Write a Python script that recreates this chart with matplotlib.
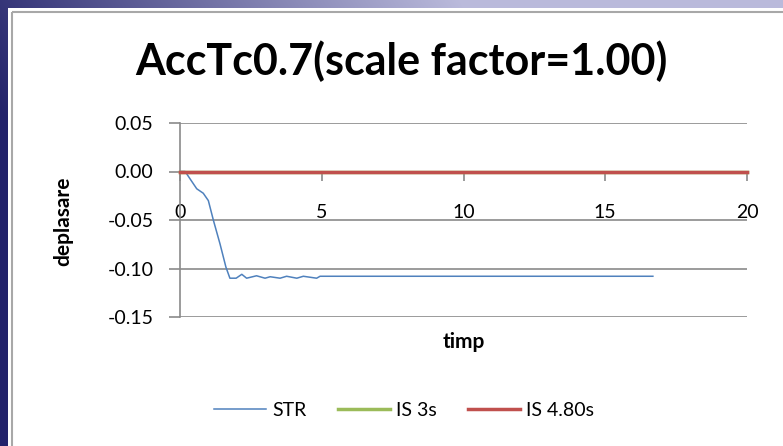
import numpy as np
import matplotlib.pyplot as plt
from matplotlib.patches import Rectangle

# data
t_str = [0, 0.18, 0.59, 0.82, 1.0, 1.18, 1.41, 1.62, 1.76, 1.98, 2.18, 2.35, 2.7, 3.0,
         3.18, 3.53, 3.76, 4.12, 4.35, 4.82, 4.94, 16.68]
d_str = [0, 0, -0.0178, -0.0224, -0.030, -0.0505, -0.0745, -0.0986, -0.110, -0.110,
         -0.106, -0.110, -0.1075, -0.110, -0.1085, -0.110, -0.108, -0.110, -0.108,
         -0.110, -0.108, -0.108]
t_is = [0, 5, 10, 15, 20]
d_is3 = [0, 0, 0, 0, 0]
d_is48 = [0, 0, 0, 0, 0]

series_labels = ['STR', 'IS 3s', 'IS 4.80s']
title = 'AccTc0.7(scale factor=1.00)'

W, H = 783, 446
plt.rcParams['font.family'] = ['Lato', 'DejaVu Sans']
plt.rcParams['axes.unicode_minus'] = False

fig = plt.figure(figsize=(W / 100, H / 100), dpi=100)

# slide background (purple gradient) + white chart area
bg = fig.add_axes([0, 0, 1, 1])
bg.axis('off')
xs = np.linspace(0, 1, W)[None, :]
ys = np.linspace(0, 1, H)[:, None]
f = np.clip(0.12 + 1.5 * xs - 0.5 * ys, 0, 1)[..., None]
dark = np.array([0.14, 0.14, 0.42])
light = np.array([0.73, 0.73, 0.86])
bg.imshow(dark + f * (light - dark), extent=[0, W, H, 0], aspect='auto')
bg.add_patch(Rectangle((8, 8), W, H, facecolor='white', edgecolor='none'))
bg.add_patch(Rectangle((12, 12), W, H, facecolor='none', edgecolor='#a8a8a8', lw=1.5))
bg.set_xlim(0, W)
bg.set_ylim(H, 0)

ax = fig.add_axes([180 / W, 1 - 317 / H, (747 - 180) / W, (317 - 123) / H])
ax.patch.set_alpha(0)
ax.plot(t_str, d_str, color='#4F81BD', lw=1.1, label=series_labels[0], zorder=3)
ax.plot(t_is, d_is3, color='#9BBB59', lw=2.5, label=series_labels[1], zorder=3,
        clip_on=False)
ax.plot(t_is, d_is48, color='#C0504D', lw=2.5, label=series_labels[2], zorder=3,
        clip_on=False)

ax.set_xlim(0, 20)
ax.set_ylim(-0.15, 0.05)
ax.set_xticks([0, 5, 10, 15, 20])
ax.set_yticks([-0.15, -0.10, -0.05, 0.00, 0.05])
ax.set_yticklabels(['-0.15', '-0.10', '-0.05', '0.00', '0.05'])
ax.grid(axis='y', color='#8a8a8a', lw=1.2)
ax.set_axisbelow(True)
for s in ['top', 'right']:
    ax.spines[s].set_visible(False)
ax.spines['bottom'].set_position(('data', 0))
ax.spines['bottom'].set_color('#8a8a8a')
ax.spines['left'].set_color('#8a8a8a')
ax.spines['left'].set_linewidth(1.2)
ax.tick_params(axis='x', direction='out', length=6.5, width=1.2, color='#8a8a8a',
               pad=17, labelsize=14)
ax.tick_params(axis='y', direction='out', length=8, width=1.2, color='#8a8a8a',
               pad=11, labelsize=14)

fig.text(401 / W, 1 - 75 / H, title, ha='center', va='baseline', fontsize=31,
         fontweight='bold')
fig.text(63 / W, 1 - 221 / H, 'deplasare', rotation=90, ha='center', va='center',
         fontsize=15, fontweight='bold')
fig.text(464 / W, 1 - 348 / H, 'timp', ha='center', va='baseline', fontsize=15,
         fontweight='bold')

fig.legend(loc='center', bbox_to_anchor=(404 / W, 1 - 410 / H), ncol=3, frameon=False,
           fontsize=14, handlelength=2.7, columnspacing=1.6, handletextpad=0.3)

fig.savefig('out.png', dpi=100)
